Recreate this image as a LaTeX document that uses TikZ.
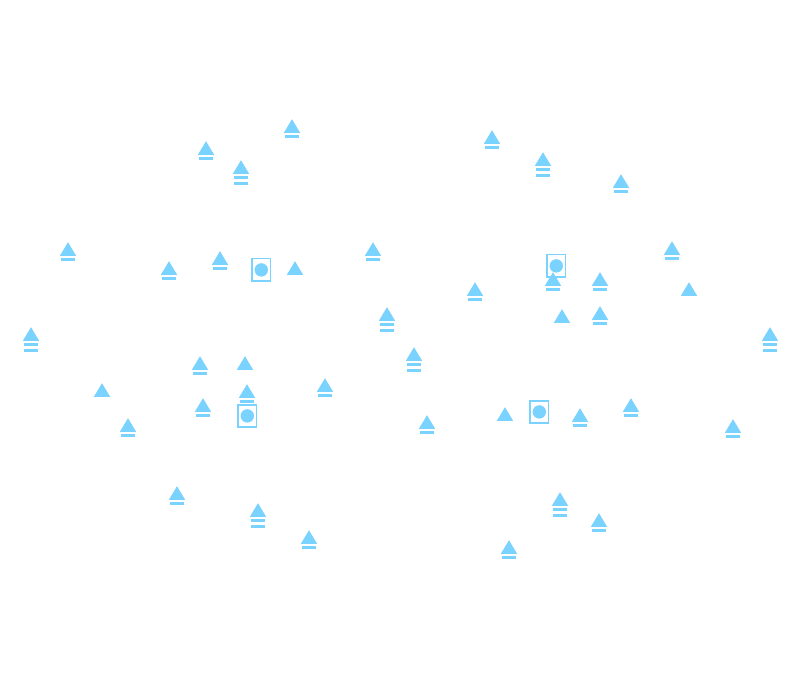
\documentclass[tikz,border=0pt]{standalone}
\definecolor{sym}{HTML}{7AD2FF}
\tikzset{
  tri/.pic={\fill[sym] (0,-0.8) -- (8.2,12.9) -- (-8.2,12.9) -- cycle;},
  barone/.pic={\fill[sym] (-7,15) rectangle (7,18);},
  bartwo/.pic={\fill[sym] (-7,21) rectangle (7,24);},
  onebar/.pic={\pic {tri}; \pic {barone};},
  twobar/.pic={\pic {tri}; \pic {barone}; \pic {bartwo};},
  boxed/.pic={\draw[sym,line width=1.8pt,fill=white] (-9.2,-11.3) rectangle (9.2,11.3); \fill[sym] (0,0) circle (6.7);}
}
\begin{document}
\begin{tikzpicture}[x=1pt,y=-1pt]
\useasboundingbox (0,0) rectangle (800,700);
\foreach \x/\y in {261.3/269.9,556.3/265.9,247.3/415.9,539.3/411.9} \pic at (\x,\y) {boxed};
\foreach \x/\y in {295/262,689/283,562/310,245/357,102/384,505/408} \pic at (\x,\y) {tri};
\foreach \x/\y in {206/142,292/120,492/131,621/175,68/243,169/262,220/252,373/243,672/242,475/283,553/273,600/273,600/307,200/357,325/379,247/385,203/399,128/419,427/416,580/409,631/399,733/420,177/487,309/531,599/514,509/541} \pic at (\x,\y) {onebar};
\foreach \x/\y in {241/161,543/153,387/308,31/328,770/328,414/348,258/504,560/493} \pic at (\x,\y) {twobar};
\end{tikzpicture}
\end{document}
